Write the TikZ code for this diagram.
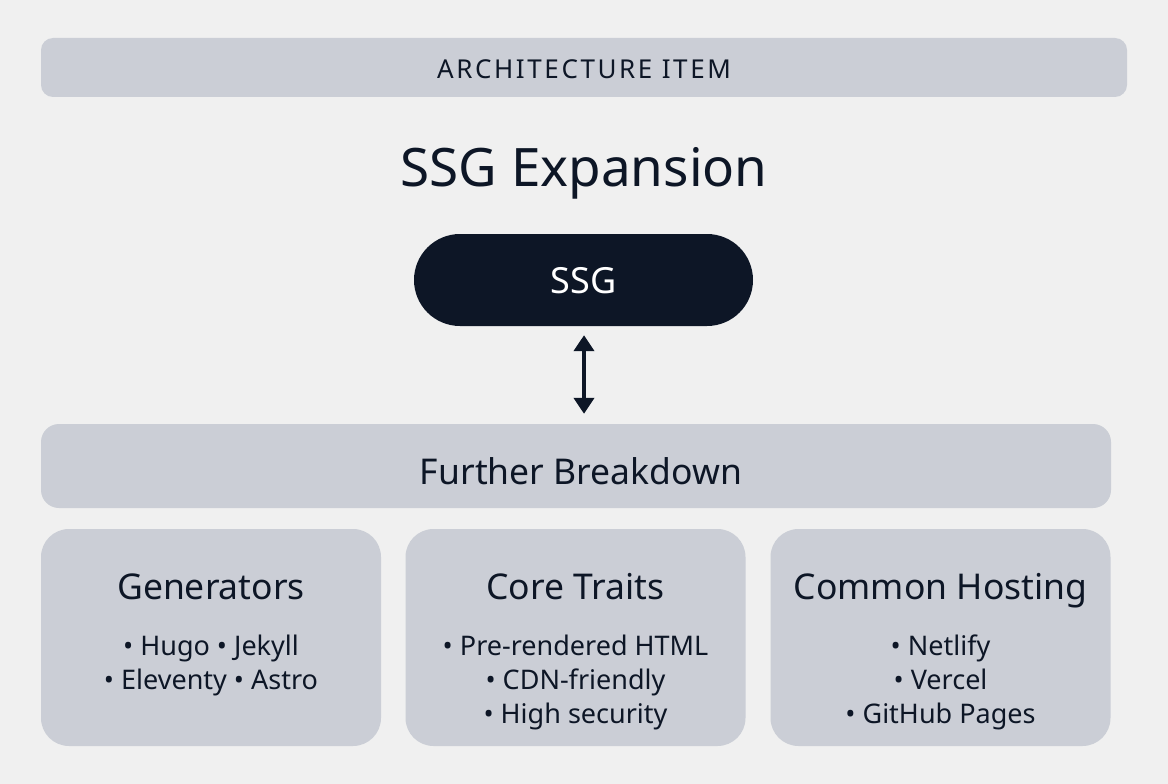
\documentclass[tikz,border=0pt]{standalone}
\usepackage{fontspec}
\setmainfont{Noto Sans}
\usetikzlibrary{arrows.meta}
\definecolor{pagebg}{HTML}{F0F0F0}
\definecolor{boxgray}{HTML}{CBCED6}
\definecolor{inkdark}{HTML}{0D1626}
\tikzset{
  panel/.style={fill=boxgray, draw=none, inner sep=0pt},
  card/.style={panel, minimum width=340pt, minimum height=217pt, rounded corners=28pt},
  cardtitle/.style={font=\fontsize{35.5}{40}\selectfont, text=inkdark, anchor=base},
  cardlist/.style={font=\fontsize{27}{34}\selectfont, text=inkdark, align=center}
}
\begin{document}
\begin{tikzpicture}[x=1pt, y=-1pt, text=inkdark]
\fill[pagebg] (0,0) rectangle (1168,784);
\useasboundingbox (0,0) rectangle (1168,784);

\node[panel, minimum width=1086pt, minimum height=59pt, rounded corners=12pt] (banner) at (584,67.5) {};
\node (bannertext) at (584,69) {\fontsize{26}{28}\selectfont\addfontfeature{LetterSpace=10}ARCHITECTURE ITEM};

\node[font=\fontsize{53}{60}\selectfont] (title) at (584,173) {SSG Expansion};

\node[fill=inkdark, minimum width=339pt, minimum height=92pt, rounded corners=46pt, inner sep=0pt] (ssg) at (583.5,280) {};
\node[text=white, font=\fontsize{36}{40}\selectfont] (ssgtext) at (583.5,281) {SSG};

\node[panel, minimum width=1070pt, minimum height=84pt, rounded corners=18pt] (further) at (576,466) {};
\node[font=\fontsize{35.5}{40}\selectfont] (furthertext) at (581,471) {Further Breakdown};

\draw[{Triangle[width=20pt,length=16pt]}-{Triangle[width=20pt,length=16pt]}, line width=4pt, draw=inkdark, shorten <=9pt, shorten >=10pt] (ssg.south -| 584,0) -- (further.north -| 584,0);

% three cards
\node[card] (gen) at (211,637.5) {};
\node[card] (core) at (575.5,637.5) {};
\node[card] (host) at (940.5,637.5) {};

\node[cardtitle] (gentitle) at (211,599) {Generators};
\node[cardtitle] (coretitle) at (575.5,599) {Core Traits};
\node[cardtitle] (hosttitle) at (940.5,599) {Common Hosting};

\node[cardlist, anchor=north] (genlist) at (211,631) {• Hugo • Jekyll\\• Eleventy • Astro};
\node[cardlist, anchor=north] (corelist) at (575.5,631) {• Pre-rendered HTML\\• CDN-friendly\\• High security};
\node[cardlist, anchor=north] (hostlist) at (940.5,631) {• Netlify\\• Vercel\\• GitHub Pages};
\end{tikzpicture}
\end{document}
